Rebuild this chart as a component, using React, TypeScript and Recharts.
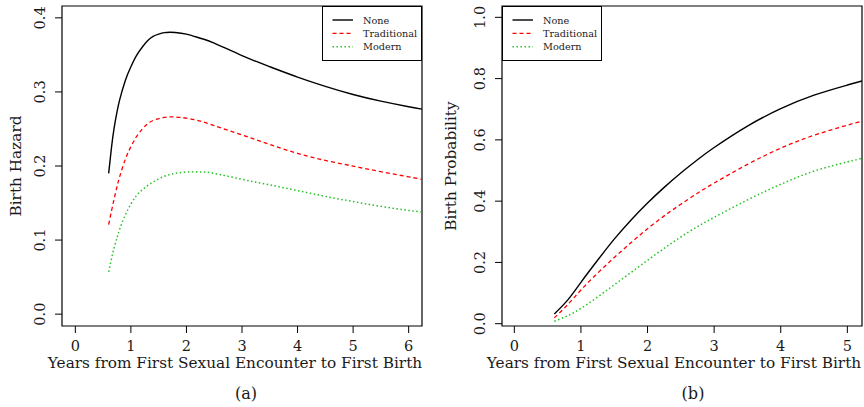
import React from 'react';
import { LineChart, Line, XAxis, YAxis, ReferenceArea, Legend } from 'recharts';

// ---------- data ----------
const hazardYears = [0.6, 0.65, 0.7, 0.75, 0.8, 0.9, 1.0, 1.1, 1.2, 1.3, 1.4, 1.5, 1.6, 1.7, 1.8, 2.0, 2.25, 2.5, 3.0, 3.5, 4.0, 4.5, 5.0, 5.5, 6.0, 6.24];
const hazardNone = [0.19, 0.2245, 0.252, 0.273, 0.29, 0.3155, 0.334, 0.349, 0.36, 0.369, 0.375, 0.378, 0.38, 0.3806, 0.3803, 0.378, 0.3725, 0.366, 0.349, 0.334, 0.32, 0.3075, 0.2965, 0.2875, 0.28, 0.2768];
const hazardTraditional = [0.121, 0.139, 0.156, 0.172, 0.186, 0.209, 0.226, 0.2395, 0.2495, 0.257, 0.2615, 0.264, 0.2655, 0.2662, 0.2662, 0.2645, 0.2605, 0.2545, 0.242, 0.229, 0.217, 0.2075, 0.1998, 0.1923, 0.1853, 0.182];
const hazardModern = [0.057, 0.0745, 0.09, 0.103, 0.115, 0.134, 0.1485, 0.16, 0.1675, 0.1735, 0.1785, 0.1825, 0.186, 0.1883, 0.19, 0.1918, 0.192, 0.19, 0.182, 0.1745, 0.1668, 0.159, 0.152, 0.1455, 0.14, 0.138];

const probYears = [0.6, 0.8, 1.0, 1.25, 1.5, 1.75, 2.0, 2.25, 2.5, 2.75, 3.0, 3.5, 4.0, 4.5, 5.0, 5.22];
const probNone = [0.032, 0.077, 0.135, 0.207, 0.276, 0.338, 0.394, 0.445, 0.492, 0.535, 0.575, 0.645, 0.702, 0.746, 0.779, 0.7925];
const probTraditional = [0.019, 0.062, 0.11, 0.165, 0.216, 0.264, 0.31, 0.352, 0.39, 0.426, 0.459, 0.52, 0.573, 0.615, 0.648, 0.6615];
const probModern = [0.008, 0.026, 0.05, 0.087, 0.127, 0.167, 0.207, 0.246, 0.283, 0.317, 0.347, 0.404, 0.455, 0.498, 0.528, 0.54];

const seriesKeys = ['none', 'traditional', 'modern'];
const seriesNames = ['None', 'Traditional', 'Modern'];
const seriesColors = ['#000000', '#FF0000', '#22C322'];
const seriesDashes = ['', '4 3', '1.5 2.5'];
const seriesWidths = [1.4, 1.3, 1.5];

const hazardXTicks = [0, 1, 2, 3, 4, 5, 6];
const hazardYTicks = [0, 0.1, 0.2, 0.3, 0.4];
const probXTicks = [0, 1, 2, 3, 4, 5];
const probYTicks = [0, 0.2, 0.4, 0.6, 0.8, 1.0];

const hazardXDomain = [-0.24, 6.24];
const hazardYDomain = [-0.016, 0.416];
const probXDomain = [-0.185, 5.22];
const probYDomain = [-0.0075, 1.037];

const xTitle = 'Years from First Sexual Encounter to First Birth';

const hazardRows = hazardYears.map((t, i) => ({
  t,
  none: hazardNone[i],
  traditional: hazardTraditional[i],
  modern: hazardModern[i],
}));
const probRows = probYears.map((t, i) => ({
  t,
  none: probNone[i],
  traditional: probTraditional[i],
  modern: probModern[i],
}));

// ---------- styling ----------
const FONT = '"DejaVu Serif", "Liberation Serif", serif';
const TXT = '#1a1a1a';
const TICK_FS = 14.5;
const TITLE_FS = 15.3;

function XTick(props: any) {
  const { x, y, payload } = props;
  return (
    <text x={x} y={y} dy="0.71em" textAnchor="middle" fontSize={TICK_FS} fill={TXT} fontFamily={FONT}>
      {String(payload.value)}
    </text>
  );
}

function YTick(props: any) {
  const { x, y, payload } = props;
  return (
    <text
      x={x}
      y={y}
      transform={`rotate(-90, ${x}, ${y})`}
      textAnchor="middle"
      fontSize={TICK_FS}
      fill={TXT}
      fontFamily={FONT}
    >
      {Number(payload.value).toFixed(1)}
    </text>
  );
}

function makeYLabel(text: string, dx: number) {
  return (props: any) => {
    const vb = props.viewBox || {};
    const x = vb.x + dx;
    const y = vb.y + vb.height / 2;
    return (
      <text x={x} y={y} transform={`rotate(-90, ${x}, ${y})`} textAnchor="middle" fontSize={TITLE_FS} fill={TXT} fontFamily={FONT}>
        {text}
      </text>
    );
  };
}

function makeXLabel(caption: string, titleShift: number, captionShift: number) {
  return (props: any) => {
    const vb = props.viewBox || {};
    const cx = vb.x + vb.width / 2;
    return (
      <g>
        <text x={cx + titleShift} y={vb.y + 42} textAnchor="middle" fontSize={TITLE_FS} fill={TXT} fontFamily={FONT}>
          {xTitle}
        </text>
        <text x={cx + captionShift} y={vb.y + 73} textAnchor="middle" fontSize={TITLE_FS + 0.8} fill={TXT} fontFamily={FONT}>
          {caption}
        </text>
      </g>
    );
  };
}

function LegendBox() {
  return (
    <svg width={100} height={55} style={{ display: 'block', overflow: 'visible' }}>
      <rect x={0.5} y={0.5} width={99} height={54} fill="#ffffff" stroke="#000" strokeWidth={1} />
      {seriesNames.map((name, i) => {
        const ly = 14 + i * 13.4;
        return (
          <g key={name}>
            <line
              x1={10.5}
              x2={31}
              y1={ly}
              y2={ly}
              stroke={seriesColors[i]}
              strokeWidth={seriesWidths[i]}
              strokeDasharray={seriesDashes[i] || undefined}
            />
            <text x={41} y={ly} dominantBaseline="central" fontSize={9.7} fill={TXT} fontFamily={FONT}>
              {name}
            </text>
          </g>
        );
      })}
    </svg>
  );
}

function renderLines() {
  return seriesKeys.map((k, i) => (
    <Line
      key={k}
      type="natural"
      dataKey={k}
      name={seriesNames[i]}
      stroke={seriesColors[i]}
      strokeWidth={seriesWidths[i]}
      strokeDasharray={seriesDashes[i] || undefined}
      dot={false}
      activeDot={false}
      isAnimationActive={false}
    />
  ));
}

function Panel(props: any) {
  const { rows, xDomain, yDomain, xTicks, yTicks, yTitle, caption, yAxisWidth, rightMargin, legendLeft, titleShift, captionShift, yTitleDx } = props;
  return (
    <LineChart width={432} height={407} data={rows} margin={{ top: 6, right: rightMargin, left: 0, bottom: 0 }}>
      <XAxis
        dataKey="t"
        type="number"
        domain={xDomain}
        ticks={xTicks}
        allowDataOverflow
        axisLine={false}
        tickLine={{ stroke: '#000', strokeWidth: 1 }}
        tickSize={7}
        tickMargin={8}
        tick={<XTick />}
        height={81}
        interval={0}
        label={{ content: makeXLabel(caption, titleShift, captionShift) }}
      />
      <YAxis
        type="number"
        domain={yDomain}
        ticks={yTicks}
        allowDataOverflow
        axisLine={false}
        tickLine={{ stroke: '#000', strokeWidth: 1 }}
        tickSize={7}
        tickMargin={10}
        tick={<YTick />}
        width={yAxisWidth}
        interval={0}
        label={{ content: makeYLabel(yTitle, yTitleDx) }}
      />
      <ReferenceArea
        x1={xDomain[0]}
        x2={xDomain[1]}
        y1={yDomain[0]}
        y2={yDomain[1]}
        fill="none"
        stroke="#000"
        strokeWidth={1.2}
        ifOverflow="visible"
      />
      {renderLines()}
      <Legend
        layout="vertical"
        align="center"
        verticalAlign="middle"
        content={() => <LegendBox />}
        wrapperStyle={{ left: legendLeft, top: 6, width: 100, height: 55 }}
      />
    </LineChart>
  );
}

export default function App() {
  return (
    <div
      style={{
        position: 'absolute',
        left: 0,
        top: 0,
        width: 864,
        height: 407,
        background: '#fff',
        fontFamily: FONT,
      }}
    >
      <div style={{ position: 'absolute', left: 0, top: 0 }}>
        <Panel
          rows={hazardRows}
          xDomain={hazardXDomain}
          yDomain={hazardYDomain}
          xTicks={hazardXTicks}
          yTicks={hazardYTicks}
          yTitle="Birth Hazard"
          caption="(a)"
          yAxisWidth={62}
          rightMargin={10}
          legendLeft={322}
          titleShift={-7}
          captionShift={4}
          yTitleDx={21}
        />
      </div>
      <div style={{ position: 'absolute', left: 432, top: 0 }}>
        <Panel
          rows={probRows}
          xDomain={probXDomain}
          yDomain={probYDomain}
          xTicks={probXTicks}
          yTicks={probYTicks}
          yTitle="Birth Probability"
          caption="(b)"
          yAxisWidth={70}
          rightMargin={2}
          legendLeft={70}
          titleShift={-8}
          captionShift={11}
          yTitleDx={24}
        />
      </div>
    </div>
  );
}
